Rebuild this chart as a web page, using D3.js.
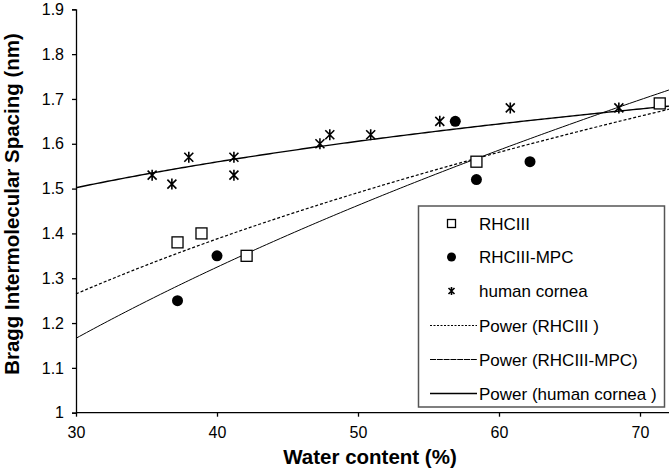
<!DOCTYPE html>
<html><head><meta charset="utf-8">
<script src="https://cdn.jsdelivr.net/npm/d3@7"></script>
<style>body{margin:0;background:#fff}svg{display:block}text{font-family:"Liberation Sans",Arial,sans-serif}</style>
</head><body><svg id="c" width="669" height="468"></svg>
<script>
const xTicks = [30, 40, 50, 60, 70];
const yTicks = [1, 1.1, 1.2, 1.3, 1.4, 1.5, 1.6, 1.7, 1.8, 1.9];
const rhcX = [37.2, 38.9, 42.1, 58.4, 71.4];
const rhcY = [1.38, 1.40, 1.35, 1.56, 1.69];
const mpcX = [37.2, 40.0, 56.9, 58.4, 62.2];
const mpcY = [1.25, 1.35, 1.65, 1.52, 1.56];
const corX = [35.4, 36.8, 38.0, 41.2, 41.2, 47.3, 48.0, 50.9, 55.8, 60.8, 68.5];
const corY = [1.53, 1.51, 1.57, 1.57, 1.53, 1.60, 1.62, 1.62, 1.65, 1.68, 1.68];
// power trend lines: value at x = 30 and at the right plot edge
const trendNames = ["Power (RHCIII )", "Power (RHCIII-MPC)", "Power (human cornea )"];
const trendStart = [1.265, 1.166, 1.502];
const trendEnd = [1.677, 1.72, 1.684];
const legendLabels = ["RHCIII", "RHCIII-MPC", "human cornea"].concat(trendNames);

const svg = d3.select("#c");
const x0 = 76, xEnd = 669;
const x = d3.scaleLinear().domain([30, 70]).range([76, 640]);
const xMax = x.invert(xEnd);
const y = d3.scaleLinear().domain([1, 1.9]).range([412.7, 9.3]);

// axes
const gy = svg.append("g").attr("transform", `translate(${x0},0)`)
  .call(d3.axisLeft(y).tickValues(yTicks).tickSize(4).tickPadding(8).tickFormat(d => String(+d.toFixed(1))));
const gx = svg.append("g").attr("transform", `translate(0,${y(1)})`)
  .call(d3.axisBottom(x).tickValues(xTicks).tickSize(4).tickPadding(10));
gx.select(".domain").attr("d", `M${x0},0H${xEnd}`);
[gx, gy].forEach(g => {
  g.selectAll("path,line").attr("stroke", "#000").attr("stroke-width", 1.3);
  g.selectAll("text").attr("font-size", 16).attr("fill", "#000").attr("font-family", "Liberation Sans, Arial, sans-serif");
});

// power trend lines
const styles = [{dash: "3,2", w: 1.2}, {dash: null, w: 1.0}, {dash: null, w: 1.4}];
const line = d3.line().x(d => x(d[0])).y(d => y(d[1]));
const xs = d3.range(30, xMax, 0.25).concat([xMax]);
trendStart.forEach((s, i) => {
  const b = Math.log(trendEnd[i] / s) / Math.log(xMax / 30);
  const a = s / Math.pow(30, b);
  svg.append("path").attr("d", line(xs.map(v => [v, a * Math.pow(v, b)])))
    .attr("fill", "none").attr("stroke", "#000").attr("stroke-width", styles[i].w)
    .attr("stroke-dasharray", styles[i].dash);
});

// markers
function square(g, cx, cy, s) {
  g.append("rect").attr("x", cx - s / 2).attr("y", cy - s / 2).attr("width", s).attr("height", s)
    .attr("fill", "#fff").attr("stroke", "#000").attr("stroke-width", 1.3);
}
function dot(g, cx, cy, r) {
  g.append("circle").attr("cx", cx).attr("cy", cy).attr("r", r).attr("fill", "#000");
}
function star(g, cx, cy, s, vert) {
  let d = `M${cx - s},${cy - s}L${cx + s},${cy + s}M${cx - s},${cy + s}L${cx + s},${cy - s}`;
  if (vert) d += `M${cx},${cy - s - 1}L${cx},${cy + s + 1}`;
  g.append("path").attr("d", d).attr("stroke", "#000").attr("stroke-width", 1.6).attr("fill", "none");
}
const pts = svg.append("g");
rhcX.forEach((v, i) => square(pts, x(v), y(rhcY[i]), 11));
mpcX.forEach((v, i) => dot(pts, x(v), y(mpcY[i]), 5.5));
corX.forEach((v, i) => star(pts, x(v), y(corY[i]), 4.5, true));

// legend
const lg = svg.append("g");
lg.append("rect").attr("x", 418.5).attr("y", 206).attr("width", 246).attr("height", 201)
  .attr("fill", "#fff").attr("stroke", "#555").attr("stroke-width", 1.5);
const rowY = [223.5, 257, 291, 325.5, 359.5, 393.5];
const mx = 451.5, tx = 479;
square(lg, mx, rowY[0], 8);
dot(lg, mx, rowY[1], 4.5);
star(lg, mx, rowY[2], 3, true);
lg.append("line").attr("x1", 430).attr("x2", 477).attr("y1", rowY[3]).attr("y2", rowY[3])
  .attr("stroke", "#000").attr("stroke-width", 1.1).attr("stroke-dasharray", "2,1.5");
lg.append("line").attr("x1", 430).attr("x2", 477).attr("y1", rowY[4]).attr("y2", rowY[4])
  .attr("stroke", "#000").attr("stroke-width", 1.1).attr("stroke-dasharray", "6,0.8");
lg.append("line").attr("x1", 430).attr("x2", 477).attr("y1", rowY[5]).attr("y2", rowY[5])
  .attr("stroke", "#000").attr("stroke-width", 1.3);
legendLabels.forEach((t, i) => {
  lg.append("text").attr("x", tx).attr("y", rowY[i]).attr("dy", "0.36em")
    .attr("font-size", 17).attr("fill", "#000").text(t);
});

// axis titles
svg.append("text").attr("x", 370).attr("y", 464).attr("text-anchor", "middle")
  .attr("font-size", 20.5).attr("font-weight", "bold").text("Water content (%)");
svg.append("text").attr("transform", "translate(19,204) rotate(-90)").attr("text-anchor", "middle")
  .attr("font-size", 20.5).attr("font-weight", "bold").text("Bragg Intermolecular Spacing (nm)");
</script></body></html>
